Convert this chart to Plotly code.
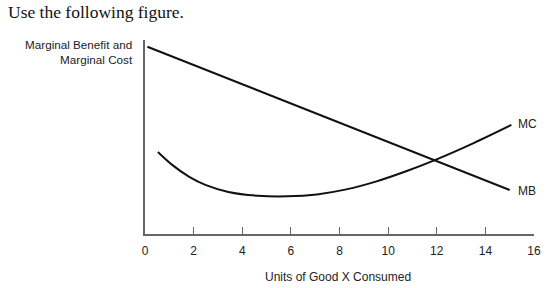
import plotly.graph_objects as go

# Data
mb_x = [0.1, 15.0]
mb_y = [9.65, 2.27]
mc_x = [0.53, 1.13, 1.82, 2.51, 3.43, 4.65, 5.86, 7.07, 8.28, 9.49, 10.71, 11.92, 13.54, 15.07]
mc_y = [4.23, 3.55, 2.95, 2.52, 2.17, 1.97, 1.94, 2.04, 2.30, 2.70, 3.22, 3.81, 4.70, 5.62]
x_ticks = [0, 2, 4, 6, 8, 10, 12, 14, 16]

fig = go.Figure()
fig.add_trace(go.Scatter(x=mb_x, y=mb_y, mode="lines", line=dict(color="#111", width=2), showlegend=False))
fig.add_trace(go.Scatter(x=mc_x, y=mc_y, mode="lines", line=dict(color="#111", width=2, shape="spline", smoothing=0.8), showlegend=False))

af = dict(family="Arial, Liberation Sans, sans-serif", size=12, color="#222")

fig.update_layout(
    width=553, height=288,
    margin=dict(l=145, r=12, t=40, b=54),
    paper_bgcolor="white", plot_bgcolor="white",
    xaxis=dict(range=[0, 16], tickvals=x_ticks, ticks="inside", ticklen=7, tickcolor="#666",
               tickwidth=1.2, showline=True, linecolor="#666", linewidth=1.5, showgrid=False,
               zeroline=False, tickfont=af, ticklabelstandoff=5, fixedrange=True),
    yaxis=dict(range=[0, 10], showticklabels=False, ticks="", showline=True, linecolor="#666",
               linewidth=1.5, showgrid=False, zeroline=False, fixedrange=True),
    annotations=[
        dict(text="Use the following figure.", xref="paper", yref="paper", x=-0.358, y=1.144,
             xanchor="left", yanchor="middle", showarrow=False,
             font=dict(family="Liberation Serif, Times New Roman, serif", size=17.5, color="#111")),
        dict(text="Marginal Benefit and<br>Marginal Cost", xref="paper", yref="paper", x=-0.025, y=0.938,
             xanchor="right", yanchor="middle", align="right", showarrow=False,
             font=dict(family="Arial, Liberation Sans, sans-serif", size=11.7, color="#222")),
        dict(text="Units of Good X Consumed", xref="paper", yref="paper", x=0.497, y=-0.222,
             xanchor="center", yanchor="middle", showarrow=False, font=af),
        dict(text="MC", x=15.27, y=5.67, xanchor="left", yanchor="middle", showarrow=False, font=af),
        dict(text="MB", x=15.27, y=2.22, xanchor="left", yanchor="middle", showarrow=False, font=af),
    ],
)

fig.write_html("out.html")
